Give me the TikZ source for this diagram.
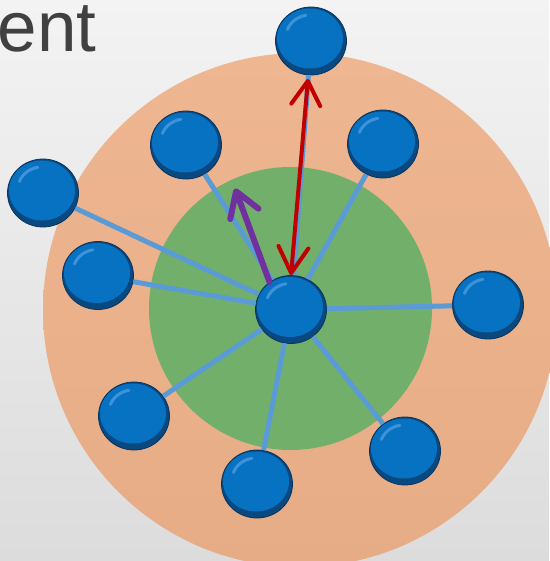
\documentclass[tikz,border=0pt]{standalone}
\usepackage{fontspec}
\setmainfont{Liberation Sans}
\usetikzlibrary{shapes.geometric,arrows.meta}
\definecolor{bgtop}{RGB}{243,243,243}
\definecolor{bgbot}{RGB}{220,220,220}
\definecolor{orangetop}{RGB}{238,182,145}
\definecolor{orangebot}{RGB}{230,172,133}
\definecolor{greenfill}{RGB}{114,175,106}
\definecolor{spokeblue}{RGB}{91,155,213}
\definecolor{ballrim}{RGB}{10,72,128}
\definecolor{balledge}{RGB}{8,52,95}
\definecolor{ballmain}{RGB}{8,114,194}
\definecolor{ballhi}{RGB}{62,146,218}
\definecolor{arrred}{RGB}{192,0,0}
\definecolor{arrpurple}{RGB}{112,48,160}
\definecolor{textgray}{RGB}{64,64,64}
\tikzset{
  ball/.style={ellipse, minimum width=71pt, minimum height=68pt, inner sep=0pt,
    fill=ballrim, draw=balledge, line width=0.8pt,
    path picture={
      \fill[ballmain] ([shift={(-1pt,2.5pt)}]path picture bounding box.center) ellipse (33pt and 30pt);
      \draw[ballhi, line width=3pt, line cap=round]
        ([shift={(-1pt,4pt)}]path picture bounding box.center) ++(100:24pt and 22pt) arc[start angle=100, end angle=160, x radius=24pt, y radius=22pt];
    }},
  spoke/.style={draw=spokeblue, line width=5pt},
  redarr/.style={draw=arrred, line width=4pt, line cap=round},
  purparr/.style={draw=arrpurple, line width=6pt, line cap=round},
}
\begin{document}
\begin{tikzpicture}[x=1pt,y=-1pt]
\useasboundingbox (0,0) rectangle (549,561);
\shade[top color=bgtop, bottom color=bgbot] (0,0) rectangle (549,561);
\node[anchor=base west, inner sep=0pt, text=textgray, font=\fontsize{71}{71}\selectfont] (title) at (-2.5,52) {ent};
\shade[top color=orangetop, bottom color=orangebot] (300,310) circle[radius=257];
\fill[greenfill] (290.5,308.5) circle[radius=141.5];
% balls
\node[ball] (c) at (291,309.5) {};
\node[ball] (t) at (311,41) {};
\node[ball] (ul) at (186,145) {};
\node[ball] (ur) at (383,144) {};
\node[ball] (fl) at (43,193) {};
\node[ball] (l) at (98,275.5) {};
\node[ball] (r) at (488,305) {};
\node[ball] (ll) at (134,416) {};
\node[ball] (b) at (257,484) {};
\node[ball] (lr) at (405,451) {};
% spokes
\foreach \n in {t,ul,ur,fl,l,r,ll,b,lr}
  \draw[spoke] (c) -- (\n);
% arrows
\coordinate (redtop) at (308,79);
\coordinate (purtip) at (235,188.5);
\draw[redarr, {Straight Barb[length=26pt,width=30pt,round]}-{Straight Barb[length=24pt,width=29pt,round]}] (c.north) -- (redtop);
\draw[purparr, -{Straight Barb[length=24pt,width=30pt,round]}] (c.128) -- (purtip);
\end{tikzpicture}
\end{document}
